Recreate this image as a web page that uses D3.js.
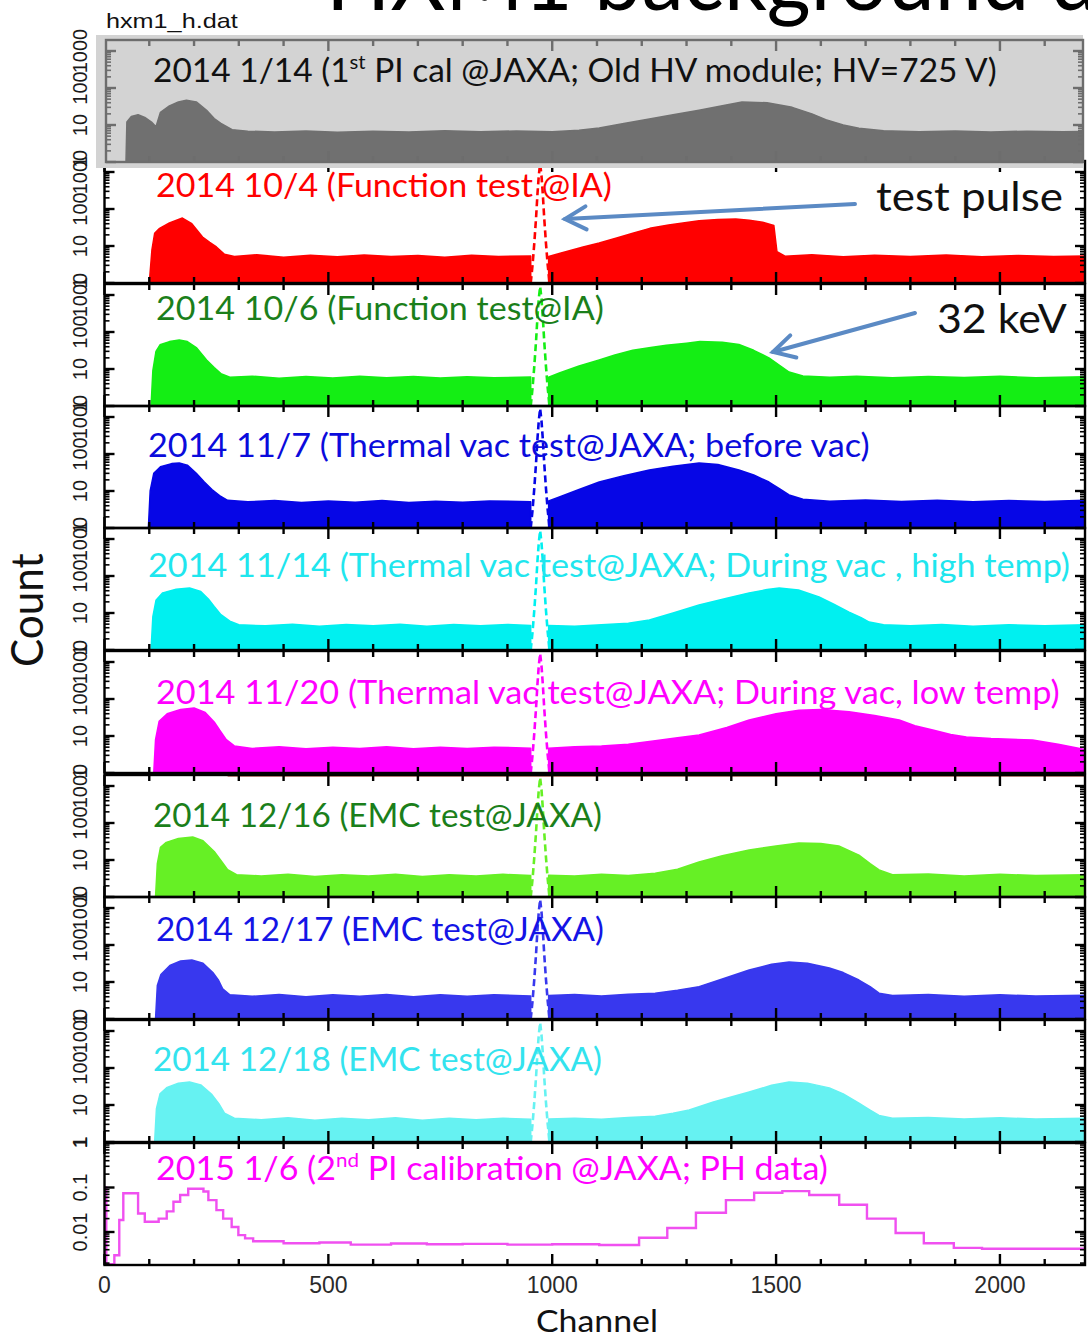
<!DOCTYPE html>
<html><head><meta charset="utf-8">
<script src="https://cdn.jsdelivr.net/npm/d3@7"></script>
<style>body{margin:0;background:#fff}svg{display:block}</style>
</head><body>
<svg id="c" width="1088" height="1340"></svg>
<script>
// ---------------- data (channel, count) ----------------
const spec0114 = [[0,1],[48,1],[50,12],[60,17],[75,19],[90,16],[105,12],[115,9],[125,22],[145,33],[165,42],[183,47],[205,42],[228,25],[245,15],[260,11],[285,7.5],[320,6.8],[380,6.5],[450,6.9],[520,6.4],[600,6.8],[680,6.5],[760,7],[840,6.6],[920,6.9],[1000,6.6],[1060,7.2],[1105,8.3],[1160,11],[1217,14.5],[1270,19],[1328,25],[1380,33],[1424,42],[1480,40],[1536,30],[1580,20],[1611,14],[1650,10],[1685,8.2],[1740,7],[1820,6.6],[1900,6.9],[1980,6.5],[2060,6.8],[2140,6.6],[2184,6.7]];
const spec1004 = [[0,1],[100,1],[106,8],[112,22],[123,30],[145,42],[174,57],[195,40],[219,17.5],[235,12.5],[250,9.4],[268,6],[290,5.2],[340,5.8],[400,5],[460,5.6],[520,5.1],[580,5.7],[640,5.2],[700,5.5],[760,5],[820,5.6],[880,5.2],[952,5.4],null,[992,5.2],[1020,6.5],[1069,9.4],[1105,12],[1144,16.4],[1180,22],[1218,30],[1260,37],[1292,42],[1328,48],[1370,52],[1410,54],[1440,50],[1470,44],[1495,36],[1502,7],[1520,5.3],[1580,5.8],[1650,5.1],[1720,5.6],[1800,5.2],[1880,5.7],[1960,5.1],[2040,5.5],[2120,5.2],[2190,5.4]];
const spec1006 = [[0,1],[104,1],[108,9],[115,30],[124,45],[145,55],[167,61],[185,55],[205,38],[228,17.5],[245,11],[260,7.5],[280,6],[330,6.4],[390,5.6],[450,6.3],[510,5.7],[570,6.4],[630,5.8],[690,6.3],[750,5.7],[810,6.2],[870,5.8],[952,6.1],null,[992,6],[1016,7.8],[1060,12],[1105,17.5],[1140,24],[1180,32],[1220,38],[1255,44],[1300,50],[1330,55],[1380,53],[1417,46],[1450,32],[1484,20],[1510,12],[1529,8.3],[1560,6.5],[1620,6],[1680,6.4],[1760,5.8],[1840,6.3],[1920,5.9],[2000,6.4],[2080,5.8],[2190,6.2]];
const spec1107 = [[0,1],[98,1],[102,10],[110,30],[125,45],[150,55],[167,57],[185,50],[205,30],[223,17.5],[240,11],[257,7.5],[275,5.6],[320,5.1],[380,5.5],[440,4.9],[500,5.4],[560,5],[620,5.5],[680,4.9],[740,5.3],[800,5],[860,5.4],[952,5.1],null,[992,5.4],[1016,6.9],[1060,11],[1105,17.5],[1160,26],[1217,37],[1270,47],[1328,57],[1370,52],[1417,37],[1450,27],[1484,17.5],[1510,11],[1529,7.8],[1560,6],[1620,5.3],[1700,5.7],[1780,5.2],[1860,5.6],[1940,5.1],[2020,5.5],[2100,5.2],[2190,5.6]];
const spec1114 = [[0,1],[104,1],[108,8],[115,22],[130,35],[160,44],[190,47.5],[215,38],[232,24],[245,15],[260,9],[280,6],[300,4.8],[360,4.5],[420,5],[480,4.4],[540,4.9],[600,4.5],[660,5],[720,4.4],[780,4.9],[840,4.5],[900,4.9],[952,4.6],null,[992,4.6],[1050,4.4],[1110,4.8],[1170,5.3],[1217,6.5],[1270,10],[1328,16.4],[1390,25],[1440,35],[1480,43],[1507,47.5],[1550,42],[1596,27],[1630,17],[1663,10.6],[1690,7.5],[1708,5.7],[1740,4.8],[1800,4.5],[1870,4.9],[1940,4.4],[2020,4.8],[2100,4.5],[2190,4.8]];
const spec1120 = [[0,1],[110,1],[114,8],[122,25],[140,40],[170,52],[200,57],[225,43],[245,24],[257,14.5],[272,8],[290,5.4],[330,4.6],[390,5.1],[450,4.5],[510,5],[570,4.6],[630,5.1],[690,4.5],[750,5],[810,4.6],[870,5],[952,4.7],null,[992,4.7],[1050,5.1],[1110,5.4],[1170,6],[1230,7.4],[1280,9],[1328,10.6],[1390,17],[1440,27],[1500,40],[1551,50],[1600,52],[1663,45],[1720,36],[1775,27],[1810,19],[1850,14.5],[1890,11],[1925,9.4],[1980,8.5],[2073,7.8],[2130,6],[2190,4.3]];
const spec1216 = [[0,1],[114,1],[118,8],[125,22],[138,30],[165,38],[197,42],[220,33],[245,17],[262,9],[275,5.5],[295,4],[350,3.7],[410,4.1],[470,3.6],[530,4],[590,3.7],[650,4.1],[710,3.6],[770,4],[830,3.7],[890,4.1],[952,3.8],null,[992,3.9],[1050,3.7],[1110,4.1],[1170,3.8],[1230,4.4],[1280,5.6],[1328,8.8],[1380,13],[1440,18.6],[1500,24],[1551,28.8],[1600,28],[1640,24],[1685,13.6],[1710,8],[1730,5.4],[1760,4],[1840,4.2],[1920,3.7],[2000,4.1],[2080,3.8],[2190,4]];
const spec1217 = [[0,1],[114,1],[118,8],[126,16],[146,28],[170,37],[195,39.4],[220,32],[242,18],[255,11],[264,6.5],[280,4.5],[330,4.1],[390,4.6],[450,4],[510,4.5],[570,4.1],[630,4.6],[690,4],[750,4.5],[810,4.1],[870,4.5],[952,4.2],null,[992,4.3],[1050,4.6],[1110,4.2],[1170,4.7],[1230,5],[1280,6],[1328,7.5],[1380,12],[1440,21],[1490,30],[1529,34.8],[1570,32],[1619,24],[1650,18],[1685,11.3],[1710,7.5],[1730,5],[1760,4.3],[1840,4.6],[1920,4.1],[2000,4.5],[2080,4.2],[2190,4.4]];
const spec1218 = [[0,1],[112,1],[116,8],[124,20],[140,30],[165,39],[190,42],[215,35],[240,19],[255,11],[268,6],[290,4.4],[350,4],[410,4.5],[470,3.9],[530,4.4],[590,4],[650,4.5],[710,3.9],[770,4.4],[830,4],[890,4.4],[952,4.1],null,[992,4.2],[1050,4.4],[1110,4.1],[1170,4.6],[1230,5],[1270,6],[1306,7.3],[1360,12],[1440,22.5],[1490,34],[1529,41.9],[1570,39],[1619,29],[1650,20],[1685,11.3],[1710,7.3],[1730,5.2],[1760,4.4],[1840,4.6],[1920,4.2],[2000,4.5],[2080,4.2],[2190,4.4]];
// test pulse (dashed) shape
const pulse = [[952,1],[956,3],[960,12],[964,60],[967,250],[970,800],[973,1700],[976,800],[979,250],[982,60],[986,12],[990,3],[994,1]];
// 2015 1/6 PH histogram: bin edges and values
const phEdges = [0,4,22,33,42,75,90,121,139,154,169,187,221,232,250,265,284,299,314,332,400,480,550,640,720,800,900,1000,1105,1194,1257,1321,1388,1451,1514,1574,1641,1703,1767,1830,1897,1960,2190];
const phValues = [0.1,0.0019,0.003,0.0186,0.074,0.026,0.017,0.020,0.029,0.048,0.068,0.094,0.081,0.052,0.031,0.020,0.013,0.0085,0.0072,0.0062,0.0056,0.0058,0.0052,0.0055,0.0053,0.0054,0.0052,0.0053,0.0051,0.0074,0.0123,0.027,0.052,0.076,0.083,0.068,0.041,0.020,0.0095,0.0056,0.0044,0.0042];
const xTicks = [0,500,1000,1500,2000];
const labels = [
  "2014 1/14 (1st PI cal @JAXA; Old HV module; HV=725 V)",
  "2014 10/4 (Function test @IA)",
  "2014 10/6 (Function test@IA)",
  "2014 11/7 (Thermal vac test@JAXA; before vac)",
  "2014 11/14 (Thermal vac test@JAXA; During vac , high temp)",
  "2014 11/20 (Thermal vac test@JAXA; During vac, low temp)",
  "2014 12/16 (EMC test@JAXA)",
  "2014 12/17 (EMC test@JAXA)",
  "2014 12/18 (EMC test@JAXA)",
  "2015 1/6 (2nd PI calibration @JAXA; PH data)"
];

// ---------------- layout ----------------
const svg = d3.select("#c");
const X0 = 104.5, X1 = 1085;
const x = d3.scaleLinear().domain([0, 2190]).range([X0, X1]);
const bottoms = [162,283,406,528,650,773,897,1019,1142,1265];
const PH = 122;
const panels = [
  {data:spec0114, color:"#707070", text:"#111", lx:153, lw:844, by:82, pulse:false},
  {data:spec1004, color:"#ff0000", text:"#ff0000", lx:156, lw:456, by:197, pulse:true},
  {data:spec1006, color:"#14ee14", text:"#1b7f1b", lx:156, lw:448, by:320, pulse:true},
  {data:spec1107, color:"#0606e6", text:"#0b0bdc", lx:148, lw:722, by:457, pulse:true},
  {data:spec1114, color:"#00f0f0", text:"#1fe6ee", lx:148, lw:922, by:577, pulse:true},
  {data:spec1120, color:"#ff00ff", text:"#ff00ff", lx:156, lw:904, by:704, pulse:true},
  {data:spec1216, color:"#66f025", text:"#1b7f1b", lx:153, lw:449, by:827, pulse:true},
  {data:spec1217, color:"#3838ee", text:"#1414e6", lx:156, lw:448, by:941, pulse:true},
  {data:spec1218, color:"#66f2f2", text:"#33e3ee", lx:153, lw:449, by:1071, pulse:true},
  {data:null, color:"#f050f0", text:"#ff00ff", lx:156, lw:672, by:1180, pulse:false}
];

function fitText(t, x0, w){
  const bb = t.node().getBBox();
  const s = w / bb.width;
  t.attr("transform", `translate(${x0 - bb.x*s},0) scale(${s},1)`);
}

const gAll = svg.append("g");
const labG = svg.append("g");
function drawPanel(i){
  const p = panels[i];
  const bottom = bottoms[i], top = bottom - PH;
  const g = gAll.append("g");
  const isGray = i === 0;
  const ax = isGray ? "#6d6d6d" : "#000";
  const y = i === 9
    ? d3.scaleLog().domain([Math.pow(10, -PH/44.5), 1]).range([bottom, top]).clamp(true)
    : d3.scaleLog().domain([1, Math.pow(10, PH/37)]).range([bottom, top]).clamp(true);
  if (isGray) {
    g.append("rect").attr("x",96).attr("y",35).attr("width",987).attr("height",133).attr("fill","#d3d3d3");
  }
  const right = isGray ? 1083 : X1;
  const left = isGray ? 106 : X0;
  const clipId = "clip"+i;
  g.append("clipPath").attr("id",clipId).append("rect")
    .attr("x",left).attr("y",top).attr("width",right-left).attr("height",PH);
  const dg = g.append("g").attr("clip-path",`url(#${clipId})`);
  if (p.data) {
    const area = d3.area().defined(d => d).x(d => x(d[0])).y0(bottom).y1(d => y(d[1]));
    dg.append("path").attr("d", area(p.data)).attr("fill", p.color)
      .attr("stroke", p.color).attr("stroke-width", 1.5).attr("stroke-linejoin","round");
  }
  if (p.pulse) {
    const line = d3.line().x(d => x(d[0])).y(d => y(d[1]));
    dg.append("path").attr("d", line(pulse)).attr("fill","none").attr("stroke",p.color)
      .attr("stroke-width",2.6).attr("stroke-dasharray","7,4");
  }
  if (i === 9) {
    const pts = phEdges.map((e,k) => [e, phValues[Math.min(k, phValues.length-1)]]);
    const step = d3.line().curve(d3.curveStepAfter).x(d => x(d[0])).y(d => y(d[1]));
    dg.append("path").attr("d", step(pts)).attr("fill","none").attr("stroke",p.color).attr("stroke-width",2.4);
    dg.append("line").attr("x1",x(0)+1).attr("x2",x(0)+1).attr("y1",bottom).attr("y2",y(phValues[0]))
      .attr("stroke",p.color).attr("stroke-width",2.4);
  }
  if (i === 5) {
    g.append("line").attr("x1",x(275)).attr("x2",X1).attr("y1",bottom+2).attr("y2",bottom+2)
      .attr("stroke","#b3301c").attr("stroke-width",3);
  }
  // frame
  const fr = g.append("g").attr("stroke",ax).attr("stroke-width",2.4).attr("fill","none");
  fr.append("rect").attr("x",left).attr("y",top).attr("width",right-left).attr("height",PH);
  // x ticks (inward, top & bottom)
  d3.range(0, 2191, 100).forEach(c => {
    const L = c % 500 === 0 ? 11 : 6;
    const xx = x(c);
    if (xx < left - 0.5 || xx > right) return;
    fr.append("line").attr("x1",xx).attr("x2",xx).attr("y1",bottom).attr("y2",bottom-L);
    fr.append("line").attr("x1",xx).attr("x2",xx).attr("y1",top).attr("y2",top+L);
  });
  // y ticks (inward, left & right)
  y.ticks().forEach(v => {
    const lg = Math.log10(v);
    const major = Math.abs(lg - Math.round(lg)) < 1e-6;
    const L = major ? 10 : 5;
    const yy = y(v);
    fr.append("line").attr("x1",left).attr("x2",left+L).attr("y1",yy).attr("y2",yy).attr("stroke-width",major?2.4:1.6);
    fr.append("line").attr("x1",right).attr("x2",right-L).attr("y1",yy).attr("y2",yy).attr("stroke-width",major?2.4:1.6);
    if (major) {
      const lab = v >= 1 ? d3.format("d")(v) : String(+v.toPrecision(1));
      labG.append("text").attr("transform",`translate(87,${yy}) rotate(-90)`)
        .attr("text-anchor","middle").attr("font-family","'Liberation Sans', Arial, sans-serif")
        .attr("font-size",20).attr("fill","#1a1a1a").text(lab);
    }
  });
}
for (let i = 1; i < 10; i++) drawPanel(i);
drawPanel(0);

// ---------------- panel labels ----------------
const fontA = "Lato, 'Open Sans', sans-serif";
panels.forEach((p, i) => {
  const t = svg.append("text").attr("y", p.by).attr("font-family", fontA).attr("font-size", 33).attr("fill", p.text);
  const s = labels[i];
  const m = s.match(/^(.*?\()(\d)(st|nd)(.*)$/);
  if (m) {
    t.append("tspan").text(m[1] + m[2]);
    t.append("tspan").attr("font-size", 20).attr("dy", -13).text(m[3]);
    t.append("tspan").attr("dy", 13).text(m[4]);
  } else t.text(s);
  fitText(t, p.lx, p.lw);
});

// annotations
const tp = svg.append("text").attr("y",211).attr("font-family",fontA).attr("font-size",41).attr("fill","#111").text("test pulse");
fitText(tp, 876, 187);
const kv = svg.append("text").attr("y",333).attr("font-family",fontA).attr("font-size",41).attr("fill","#111").text("32 keV");
fitText(kv, 937, 130);

function arrow(x1, y1, x2, y2){
  const g = svg.append("g").attr("stroke","#5b8ac4").attr("stroke-width",4).attr("fill","none").attr("stroke-linecap","round");
  g.append("line").attr("x1",x1).attr("y1",y1).attr("x2",x2).attr("y2",y2);
  const a = Math.atan2(y1 - y2, x1 - x2);
  const L = 24, sp = 0.5;
  g.append("path").attr("d", `M${x2 + L*Math.cos(a+sp)},${y2 + L*Math.sin(a+sp)} L${x2},${y2} L${x2 + L*Math.cos(a-sp)},${y2 + L*Math.sin(a-sp)}`);
}
arrow(855, 204, 565, 219);
arrow(915, 313, 773, 352);

// file name and title
const fn = svg.append("text").attr("y",28).attr("font-family","'Liberation Sans', Arial, sans-serif").attr("font-size",21).attr("fill","#111").text("hxm1_h.dat");
fitText(fn, 106, 132);
const ti = svg.append("text").attr("y",10).attr("font-family",fontA).attr("font-size",90).attr("fill","#000").text("HXM1 background data");
fitText(ti, 326, 886);

// x axis tick labels
xTicks.forEach(c => {
  svg.append("text").attr("x", x(c)).attr("y", 1293).attr("text-anchor","middle")
    .attr("font-family","'Liberation Sans', Arial, sans-serif").attr("font-size",23).attr("fill","#2a2a2a").text(c);
});
const ch = svg.append("text").attr("y",1332).attr("font-family",fontA).attr("font-size",31).attr("fill","#111").text("Channel");
fitText(ch, 536, 122);
const ct = svg.append("text").attr("x",0).attr("y",0).attr("font-family",fontA).attr("font-size",44).attr("fill","#111").text("Count");
const cb = ct.node().getBBox();
ct.attr("transform", `translate(43,667) rotate(-90) scale(${114/cb.width},1)`);
</script>
</body></html>
